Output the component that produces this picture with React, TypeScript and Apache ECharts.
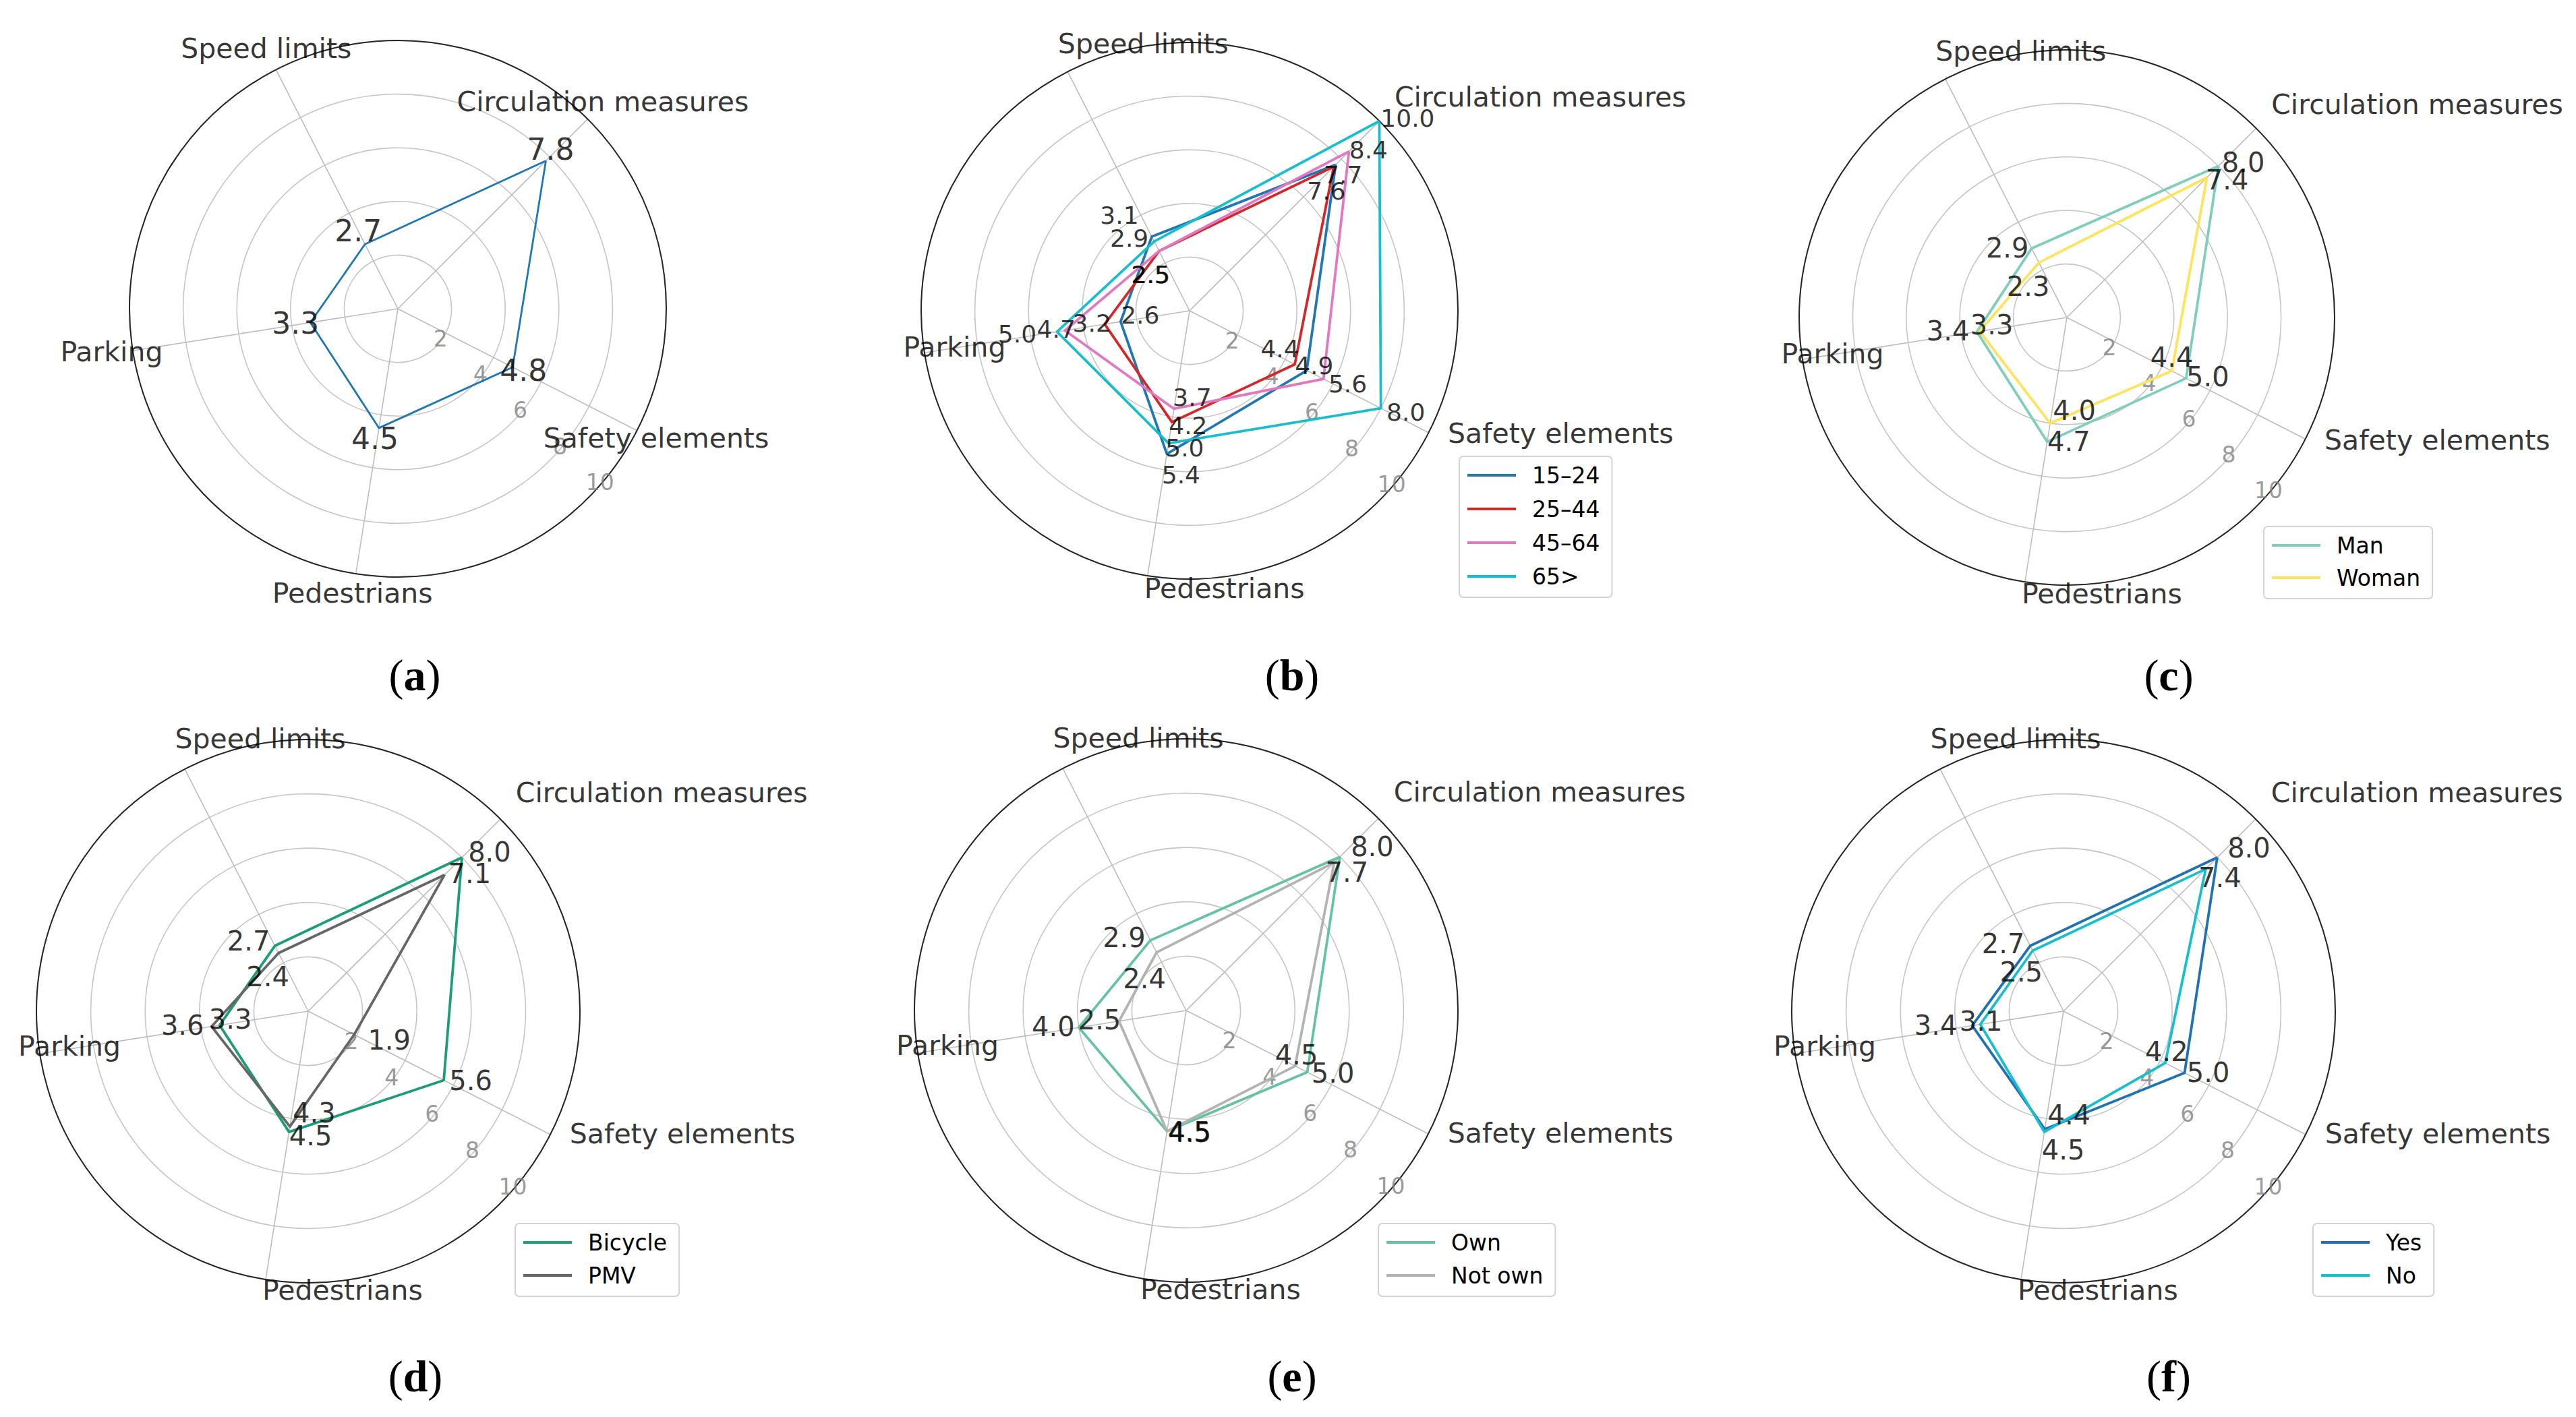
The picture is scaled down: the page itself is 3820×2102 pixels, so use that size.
import React, { useEffect, useRef } from 'react';
import * as echarts from 'echarts';

// ---------- data ----------
const categories = ['Circulation measures', 'Speed limits', 'Parking', 'Pedestrians', 'Safety elements'];
const radialTicks = [2, 4, 6, 8, 10];

// (a) all respondents
const overallValues = [7.8, 2.7, 3.3, 4.5, 4.8];

// (b) age groups
const ageGroups = ['15–24', '25–44', '45–64', '65>'];
const age15to24 = [7.7, 3.1, 2.6, 5.4, 4.9];
const age25to44 = [7.6, 2.5, 3.2, 4.2, 4.4];
const age45to64 = [8.4, 2.5, 4.7, 3.7, 5.6];
const age65plus = [10.0, 2.9, 5.0, 5.0, 8.0];

// (c) gender
const genderGroups = ['Man', 'Woman'];
const manValues = [8.0, 2.9, 3.4, 4.7, 5.0];
const womanValues = [7.4, 2.3, 3.3, 4.0, 4.4];

// (d) vehicle
const vehicleGroups = ['Bicycle', 'PMV'];
const bicycleValues = [8.0, 2.7, 3.3, 4.5, 5.6];
const pmvValues = [7.1, 2.4, 3.6, 4.3, 1.9];

// (e) ownership
const ownershipGroups = ['Own', 'Not own'];
const ownValues = [8.0, 2.9, 4.0, 4.5, 5.0];
const notOwnValues = [7.7, 2.4, 2.5, 4.5, 4.5];

// (f) yes / no
const answerGroups = ['Yes', 'No'];
const yesValues = [8.0, 2.7, 3.4, 4.4, 5.0];
const noValues = [7.4, 2.5, 3.1, 4.5, 4.2];

// ---------- layout / style ----------
const FONT = 'DejaVu Sans';
const SERIF = 'Liberation Serif';

type Group = { name: string; values: number[]; color: string; nudge: number[][] };
type Panel = {
  letter: string;
  cx: number; cy: number; r: number;
  valueFont: number; lineWidth: number;
  catAlign: 'center' | 'left'; catDy: number;
  groups: Group[];
  legend: null | { left: number; top: number; gap: number };
  caption: [number, number];
};

const panels: Panel[] = [
  {
    letter: 'a', cx: 590, cy: 458, r: 398, valueFont: 44, lineWidth: 2.8, catAlign: 'center', catDy: -3,
    groups: [
      { name: 'All', values: overallValues, color: '#1f77b4', nudge: [[7, -17], [-10, -20], [-22, 1], [-6, 16], [16, 5]] },
    ],
    legend: null, caption: [615, 1001],
  },
  {
    letter: 'b', cx: 1764, cy: 461, r: 398, valueFont: 36, lineWidth: 3.8, catAlign: 'left', catDy: -13,
    groups: [
      { name: ageGroups[0], values: age15to24, color: '#1f77b4', nudge: [[11, 15], [-48, -32], [29, -10], [21, 31], [11, -7]] },
      { name: ageGroups[1], values: age25to44, color: '#d62728', nudge: [[-11, 36], [-13, 35], [-19, -1], [24, 5], [-22, -23]] },
      { name: ageGroups[2], values: age45to64, color: '#e377c2', nudge: [[29, -2], [-12, 35], [-13, -2], [27, -17], [36, 7]] },
      { name: ageGroups[3], values: age65plus, color: '#17becf', nudge: [[42, -4], [-37, -5], [-59, 3], [24, 7], [37, 6]] },
    ],
    legend: { left: 2164, top: 677, gap: 14 }, caption: [1916, 1001],
  },
  {
    letter: 'c', cx: 3065, cy: 471, r: 397, valueFont: 40, lineWidth: 3.8, catAlign: 'left', catDy: -13,
    groups: [
      { name: genderGroups[0], values: manValues, color: '#7fcdbb', nudge: [[37, -5], [-36, 0], [-43, -1], [32, 0], [32, -2]] },
      { name: genderGroups[1], values: womanValues, color: '#ffe35a', nudge: [[30, 4], [-16, 35], [18, -9], [36, -19], [0, -20]] },
    ],
    legend: { left: 3357, top: 781, gap: 12 }, caption: [3216, 1001],
  },
  {
    letter: 'd', cx: 457, cy: 1500, r: 403, valueFont: 40, lineWidth: 3.8, catAlign: 'left', catDy: -16,
    groups: [
      { name: vehicleGroups[0], values: bicycleValues, color: '#1b9e77', nudge: [[41, -8], [-39, -7], [16, -9], [32, 6], [40, 1]] },
      { name: vehicleGroups[1], values: pmvValues, color: '#666666', nudge: [[37, -2], [-16, 35], [-43, -2], [36, -20], [52, 8]] },
    ],
    legend: { left: 764, top: 1815, gap: 13 }, caption: [616, 2041],
  },
  {
    letter: 'e', cx: 1759, cy: 1499, r: 403, valueFont: 40, lineWidth: 3.8, catAlign: 'left', catDy: -16,
    groups: [
      { name: ownershipGroups[0], values: ownValues, color: '#66c2a5', nudge: [[48, -15], [-39, -4], [-38, -1], [33, 1], [38, 2]] },
      { name: ownershipGroups[1], values: notOwnValues, color: '#b3b3b3', nudge: [[19, 14], [-18, 39], [-29, -2], [34, 2], [2, -16]] },
    ],
    legend: { left: 2044, top: 1815, gap: 13 }, caption: [1916, 2041],
  },
  {
    letter: 'f', cx: 3060, cy: 1500, r: 403, valueFont: 40, lineWidth: 3.8, catAlign: 'left', catDy: -16,
    groups: [
      { name: answerGroups[0], values: yesValues, color: '#2171b5', nudge: [[47, -14], [-40, -3], [-54, 0], [36, -21], [35, 0]] },
      { name: answerGroups[1], values: noValues, color: '#17becf', nudge: [[21, 13], [-17, 32], [1, -5], [28, 27], [2, -17]] },
    ],
    legend: { left: 3430, top: 1815, gap: 13 }, caption: [3216, 2041],
  },
];

const CAT_RADIUS = 10.8;      // in data units, where category names are anchored
const TICK_ANGLE = 273;       // angle-axis value where radial tick labels sit (display 318°)

function buildOption() {
  const step = 360 / categories.length;
  const polar: any[] = [];
  const angleAxis: any[] = [];
  const radiusAxis: any[] = [];
  const series: any[] = [];
  const legend: any[] = [];
  const graphic: any[] = [];

  panels.forEach((p, i) => {
    polar.push({ center: [p.cx, p.cy], radius: p.r });
    angleAxis.push({
      polarIndex: i,
      type: 'value',
      min: 0,
      max: 360,
      interval: step,
      startAngle: 45,
      clockwise: false,
      z: 3,
      axisLine: { show: true, lineStyle: { color: '#262626', width: 2 } },
      axisTick: { show: false },
      axisLabel: { show: false },
      splitLine: { show: true, lineStyle: { color: '#bdbdbd', width: 1.6 } },
    });
    radiusAxis.push({
      polarIndex: i,
      type: 'value',
      min: 0,
      max: 10,
      interval: 2,
      z: 2,
      axisLine: { show: false },
      axisTick: { show: false },
      axisLabel: { show: false },
      splitLine: { show: true, lineStyle: { color: '#c6c6c6', width: 1.6 } },
    });

    // data polygons
    p.groups.forEach((g) => {
      const pts = g.values.map((v, k) => [v, k * step]);
      pts.push([g.values[0], 360]);
      series.push({
        type: 'line',
        name: g.name,
        coordinateSystem: 'polar',
        polarIndex: i,
        data: pts,
        symbol: 'none',
        clip: false,
        silent: true,
        z: 5,
        color: g.color,
        lineStyle: { color: g.color, width: p.lineWidth, join: 'round' },
        itemStyle: { color: g.color },
      });
    });

    // value labels
    const labelData: any[] = [];
    p.groups.forEach((g) => {
      g.values.forEach((v, k) => {
        labelData.push({ value: [v, k * step], label: { offset: g.nudge[k] } });
      });
    });
    series.push({
      type: 'scatter',
      name: 'values-' + p.letter,
      coordinateSystem: 'polar',
      polarIndex: i,
      symbolSize: 1,
      itemStyle: { color: 'rgba(0,0,0,0)' },
      clip: false,
      silent: true,
      z: 8,
      data: labelData,
      label: {
        show: true,
        position: 'inside',
        formatter: (prm: any) => Number(prm.value[0]).toFixed(1),
        color: '#000',
        fontFamily: FONT,
        fontSize: p.valueFont,
        textBorderWidth: 0,
      },
    });

    // category names
    series.push({
      type: 'scatter',
      name: 'cats-' + p.letter,
      coordinateSystem: 'polar',
      polarIndex: i,
      symbolSize: 1,
      itemStyle: { color: 'rgba(0,0,0,0)' },
      clip: false,
      silent: true,
      z: 8,
      data: categories.map((c, k) => ({ name: c, value: [CAT_RADIUS, k * step] })),
      label: {
        show: true,
        position: 'inside',
        formatter: '{b}',
        align: p.catAlign,
        verticalAlign: 'middle',
        offset: [0, p.catDy],
        color: '#000',
        fontFamily: FONT,
        fontSize: 41,
        textBorderWidth: 0,
      },
    });

    // radial tick labels
    series.push({
      type: 'scatter',
      name: 'ticks-' + p.letter,
      coordinateSystem: 'polar',
      polarIndex: i,
      symbolSize: 1,
      itemStyle: { color: 'rgba(0,0,0,0)' },
      clip: false,
      silent: true,
      z: 4,
      data: radialTicks.map((t) => [t, TICK_ANGLE]),
      label: {
        show: true,
        position: 'inside',
        formatter: (prm: any) => String(prm.value[0]),
        offset: [4, -9],
        color: '#808080',
        fontFamily: FONT,
        fontSize: 33,
        textBorderWidth: 0,
      },
    });

    if (p.legend) {
      legend.push({
        data: p.groups.map((g) => g.name),
        orient: 'vertical',
        left: p.legend.left,
        top: p.legend.top,
        icon: 'path://M0,0 L72,0 L72,4 L0,4 Z',
        itemWidth: 72,
        itemHeight: 4,
        itemGap: p.legend.gap,
        padding: [10, 18, 13, 12],
        borderColor: '#d3d3d3',
        borderWidth: 2,
        borderRadius: 6,
        backgroundColor: '#ffffff',
        selectedMode: false,
        itemStyle: { borderWidth: 0 },
        textStyle: {
          fontFamily: FONT,
          fontSize: 33,
          lineHeight: 36,
          color: '#000',
          padding: [0, 0, 0, 19],
        },
      });
    }

    graphic.push({
      type: 'text',
      x: p.caption[0],
      y: p.caption[1],
      silent: true,
      style: {
        text: '{p|(}{b|' + p.letter + '}{p|)}',
        textAlign: 'center',
        textVerticalAlign: 'middle',
        fill: '#000',
        rich: {
          p: { fontFamily: SERIF, fontSize: 66, fontWeight: 'normal', fill: '#000' },
          b: { fontFamily: SERIF, fontSize: 66, fontWeight: 'bold', fill: '#000' },
        },
      },
    });
  });

  return {
    animation: false,
    backgroundColor: '#ffffff',
    textStyle: { fontFamily: FONT },
    polar,
    angleAxis,
    radiusAxis,
    legend,
    series,
    graphic,
  };
}

export default function App() {
  const ref = useRef<HTMLDivElement>(null);
  useEffect(() => {
    if (!ref.current) return;
    const chart = echarts.init(ref.current, null, { renderer: 'svg' });
    chart.setOption(buildOption() as any);
    return () => {
      chart.dispose();
    };
  }, []);
  return (
    <div
      ref={ref}
      style={{ position: 'fixed', left: 0, top: 0, width: 3820, height: 2102, background: '#ffffff' }}
    />
  );
}
